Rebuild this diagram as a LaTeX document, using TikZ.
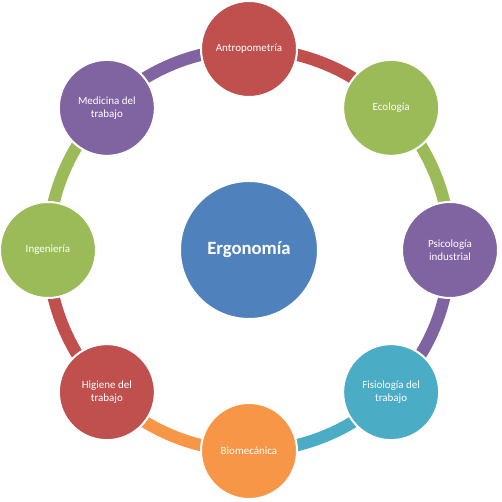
\documentclass[tikz,border=0pt]{standalone}
\usepackage{fontspec}
\setmainfont{Carlito}
\usetikzlibrary{backgrounds}
\definecolor{cred}{HTML}{C0504D}
\definecolor{cgreen}{HTML}{9BBB59}
\definecolor{cpurple}{HTML}{8064A2}
\definecolor{cteal}{HTML}{4BACC6}
\definecolor{corange}{HTML}{F79646}
\definecolor{cblue}{HTML}{4F81BD}
\tikzset{
  outer/.style={circle, draw=white, line width=2pt, minimum size=96pt, inner sep=0pt,
    text=white, align=center, font=\fontsize{11}{13.4}\selectfont},
  hub/.style={circle, draw=white, line width=2pt, minimum size=138pt, inner sep=0pt,
    text=white, font=\fontsize{18.7}{22}\selectfont\bfseries, fill=cblue},
  band/.style={line width=12.2pt}
}
\begin{document}
\begin{tikzpicture}[x=1pt,y=1pt]
\useasboundingbox (-249pt,-252pt) rectangle (253pt,250pt);
\node[hub] (c) at (0pt,0pt) {Ergonomía};
\node[outer, fill=cred]    (n1) at (90:201pt)   {Antropometría};
\node[outer, fill=cgreen]  (n2) at (45:201pt)   {Ecología};
\node[outer, fill=cpurple] (n3) at (0:201pt)    {Psicología\\industrial};
\node[outer, fill=cteal]   (n4) at (-45:201pt)  {Fisiología del\\trabajo};
\node[outer, fill=corange] (n5) at (-90:201pt)  {Biomecánica};
\node[outer, fill=cred]    (n6) at (-135:201pt) {Higiene del\\trabajo};
\node[outer, fill=cgreen]  (n7) at (180:201pt)  {Ingeniería};
\node[outer, fill=cpurple] (n8) at (135:201pt)  {Medicina del\\trabajo};
\begin{scope}[on background layer]
\draw[band, cred]    (n1.center) arc[start angle=90,  end angle=45,   radius=201pt];
\draw[band, cgreen]  (n2.center) arc[start angle=45,  end angle=0,    radius=201pt];
\draw[band, cpurple] (n3.center) arc[start angle=0,   end angle=-45,  radius=201pt];
\draw[band, cteal]   (n4.center) arc[start angle=-45, end angle=-90,  radius=201pt];
\draw[band, corange] (n5.center) arc[start angle=-90, end angle=-135, radius=201pt];
\draw[band, cred]    (n6.center) arc[start angle=-135,end angle=-180, radius=201pt];
\draw[band, cgreen]  (n7.center) arc[start angle=180, end angle=135,  radius=201pt];
\draw[band, cpurple] (n8.center) arc[start angle=135, end angle=90,   radius=201pt];
\end{scope}
\end{tikzpicture}
\end{document}
